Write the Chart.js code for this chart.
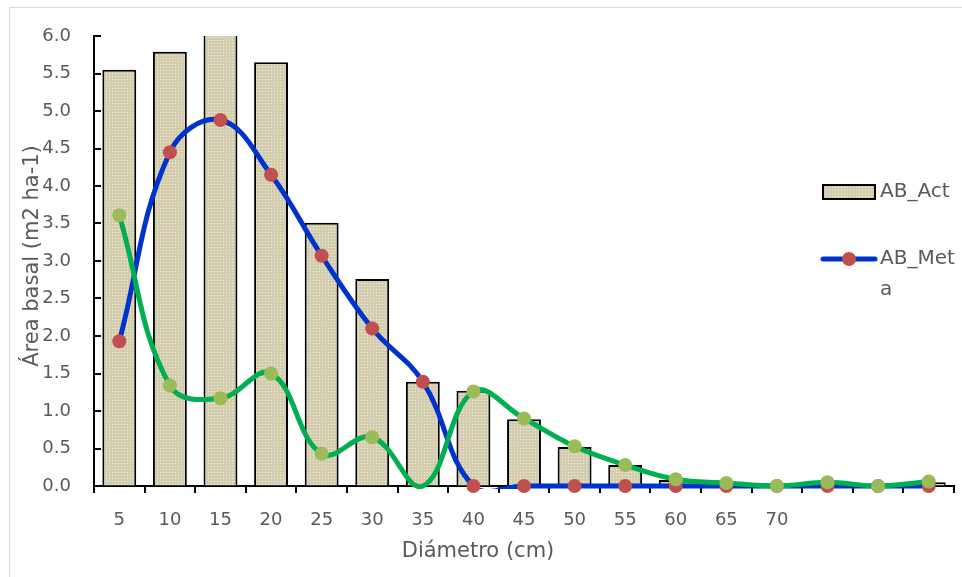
<!DOCTYPE html>
<html>
<head>
<meta charset="utf-8">
<script src="https://cdn.jsdelivr.net/npm/chart.js@4"></script>
<style>
html, body { margin: 0; padding: 0; background: #fff; }
#wrap { width: 962px; height: 577px; position: relative; }
</style>
</head>
<body>
<div id="wrap"><canvas id="myChart"></canvas></div>
<script>
var categories = ['5', '10', '15', '20', '25', '30', '35', '40', '45', '50', '55', '60', '65', '70', '', '', ''];
var abAct = [5.55, 5.79, 6.2, 5.65, 3.51, 2.76, 1.39, 1.27, 0.89, 0.52, 0.28, 0.08, 0.03, 0, 0.01, 0, 0.05];
var abMeta = [1.93, 4.45, 4.88, 4.15, 3.07, 2.10, 1.39, 0, 0, 0, 0, 0, 0, 0, 0, 0, 0];
var abOtro = [3.61, 1.34, 1.17, 1.50, 0.43, 0.65, 0, 1.26, 0.90, 0.53, 0.28, 0.09, 0.04, 0, 0.05, 0, 0.06];
var yTicks = [0, 0.5, 1, 1.5, 2, 2.5, 3, 3.5, 4, 4.5, 5, 5.5, 6];
var blankOtro = [6]; // empty cell plotted as zero, no marker

var FONT = '"DejaVu Sans", sans-serif';
var GREY = '#595959';

// dotted fill for the bars
var tile = document.createElement('canvas');
tile.width = 3; tile.height = 3;
var tc = tile.getContext('2d');
tc.fillStyle = '#d3cdae';
tc.fillRect(0, 0, 3, 3);
tc.fillStyle = '#f1eee3';
tc.fillRect(1, 1, 1, 1);
var dots = tc.createPattern(tile, 'repeat');

var lineClip = {left: 10, top: 10, right: 10, bottom: 3};

var extras = {
    id: 'extras',
    beforeDraw: function (chart) {
        var c = chart.ctx;
        c.save();
        c.fillStyle = '#fff';
        c.fillRect(0, 0, chart.width, chart.height);
        c.strokeStyle = '#d9d9d9';
        c.lineWidth = 1;
        c.strokeRect(9.5, 7.5, chart.width + 20, chart.height + 20);
        c.restore();
    },
    afterDraw: function (chart) {
        var c = chart.ctx, y = chart.scales.y, area = chart.chartArea;
        c.save();
        // y ticks point inward
        c.strokeStyle = '#000';
        c.lineWidth = 2;
        y.ticks.forEach(function (t) {
            var py = Math.round(y.getPixelForValue(t.value));
            c.beginPath();
            c.moveTo(area.left, py);
            c.lineTo(area.left + 7, py);
            c.stroke();
        });

        // axis titles
        c.fillStyle = GREY;
        c.font = '21px ' + FONT;
        c.textAlign = 'center';
        c.textBaseline = 'alphabetic';
        c.fillText('Diámetro (cm)', 478, 557);
        c.save();
        c.translate(33, 256);
        c.rotate(-Math.PI / 2);
        c.textBaseline = 'middle';
        c.fillText('Área basal (m2 ha-1)', 0, 0);
        c.restore();

        // legend
        c.font = '20px ' + FONT;
        c.textAlign = 'left';
        c.textBaseline = 'middle';
        c.fillStyle = dots;
        c.fillRect(823, 185, 52, 14);
        c.strokeStyle = '#000';
        c.lineWidth = 2;
        c.strokeRect(823, 185, 52, 14);
        c.fillStyle = GREY;
        c.fillText(chart.data.datasets[0].label, 880, 192);

        c.strokeStyle = '#0033cc';
        c.lineWidth = 5;
        c.lineCap = 'round';
        c.beginPath();
        c.moveTo(823, 259);
        c.lineTo(875, 259);
        c.stroke();
        c.fillStyle = '#c0504d';
        c.beginPath();
        c.arc(849, 259, 7, 0, Math.PI * 2);
        c.fill();

        var label = chart.data.datasets[1].label, line = '', lines = [];
        for (var i = 0; i < label.length; i++) {
            if (c.measureText(line + label[i]).width > 78) { lines.push(line); line = ''; }
            line += label[i];
        }
        lines.push(line);
        c.fillStyle = GREY;
        lines.forEach(function (s, k) { c.fillText(s, 880, 259 + k * 31); });
        c.restore();
    }
};

var ctx = document.getElementById('myChart');
var myChart = new Chart(ctx, {
    type: 'bar',
    data: {
        labels: categories,
        datasets: [{
            label: 'AB_Act',
            data: abAct,
            backgroundColor: dots,
            borderColor: '#000',
            borderWidth: 2,
            barPercentage: 0.67,
            categoryPercentage: 1,
            order: 5
        }, {
            label: 'AB_Meta',
            type: 'line',
            data: abMeta,
            borderColor: '#0033cc',
            borderWidth: 5,
            pointRadius: 0,
            tension: 0.4,
            clip: lineClip,
            order: 4
        }, {
            label: 'AB_Meta puntos',
            type: 'line',
            data: abMeta,
            showLine: false,
            pointRadius: 7,
            pointBorderWidth: 0,
            pointBackgroundColor: '#c0504d',
            clip: false,
            order: 3
        }, {
            label: 'AB_Otro',
            type: 'line',
            data: abOtro,
            borderColor: '#00b050',
            borderWidth: 5,
            pointRadius: 0,
            tension: 0.4,
            clip: lineClip,
            order: 2
        }, {
            label: 'AB_Otro puntos',
            type: 'line',
            data: abOtro,
            showLine: false,
            pointRadius: function (c) { return blankOtro.indexOf(c.dataIndex) >= 0 ? 0 : 7; },
            pointBorderWidth: 0,
            pointBackgroundColor: '#9bbb59',
            clip: false,
            order: 1
        }]
    },
    options: {
        responsive: true,
        maintainAspectRatio: false,
        animation: false,
        layout: {padding: {left: 0, top: 36, right: 8, bottom: 0}},
        elements: {line: {capBezierPoints: false, borderCapStyle: 'round', borderJoinStyle: 'round'}},
        plugins: {legend: {display: false}, tooltip: {enabled: false}},
        scales: {
            x: {
                grid: {display: true, drawOnChartArea: false, drawTicks: true, tickLength: 7, color: '#000', lineWidth: 2},
                border: {display: true, color: '#000', width: 2},
                ticks: {color: GREY, font: {family: FONT, size: 18}, padding: 17, autoSkip: false, maxRotation: 0},
                afterFit: function (s) { s.height = 91; }
            },
            y: {
                min: 0,
                max: 6,
                afterBuildTicks: function (s) { s.ticks = yTicks.map(function (v) { return {value: v}; }); },
                grid: {display: true, drawOnChartArea: false, drawTicks: false},
                border: {display: true, color: '#000', width: 2},
                ticks: {color: GREY, font: {family: FONT, size: 18}, padding: 23,
                    callback: function (v) { return Number(v).toFixed(1); }},
                afterFit: function (s) { s.width = 94; }
            }
        }
    },
    plugins: [extras]
});
</script>
</body>
</html>
